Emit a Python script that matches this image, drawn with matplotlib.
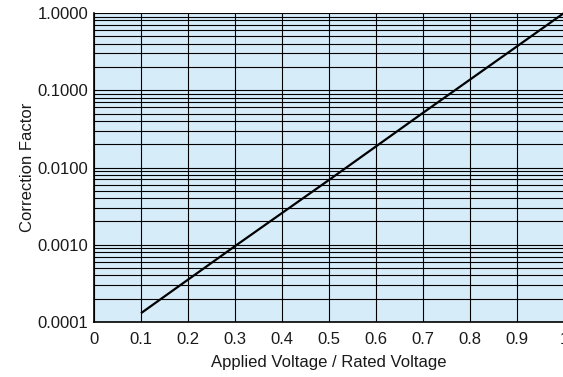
import matplotlib
matplotlib.use("Agg")
import matplotlib.pyplot as plt
import numpy as np
from matplotlib.ticker import LogLocator, NullFormatter

plt.rcParams['font.family'] = ['Liberation Sans', 'DejaVu Sans']

# data
ratio = [0.1, 0.3, 0.5, 0.7, 0.9, 1.0]
factor = [0.00013, 0.00096, 0.0069, 0.051, 0.37, 1.0]

x_ticks = [0, 0.1, 0.2, 0.3, 0.4, 0.5, 0.6, 0.7, 0.8, 0.9, 1]
x_labels = ["0", "0.1", "0.2", "0.3", "0.4", "0.5", "0.6", "0.7", "0.8", "0.9", "1"]
y_ticks = [0.0001, 0.001, 0.01, 0.1, 1]
y_labels = ["0.0001", "0.0010", "0.0100", "0.1000", "1.0000"]

W, H = 563, 377
fig = plt.figure(figsize=(W/100, H/100), dpi=100)
ax = fig.add_axes([94/W, (H-322)/H, 470/W, 309/H])
ax.set_facecolor('#d6edf9')
ax.set_yscale('log')
ax.set_xlim(0, 1)
ax.set_ylim(0.0001, 1)

ax.set_xticks(x_ticks)
ax.set_xticklabels(x_labels)
ax.set_yticks(y_ticks)
ax.set_yticklabels(y_labels)
ax.yaxis.set_minor_locator(LogLocator(base=10, subs=np.arange(2, 10)))
ax.yaxis.set_minor_formatter(NullFormatter())
ax.tick_params(which='both', length=0, labelsize=12, colors='#1a1a1a')
ax.tick_params(axis='x', pad=7)
ax.tick_params(axis='y', pad=4)

ax.grid(True, which='major', axis='both', color='black', linewidth=0.8)
ax.grid(True, which='minor', axis='y', color='black', linewidth=0.8)
ax.set_axisbelow(True)

for s in ['top', 'right']:
    ax.spines[s].set_visible(False)
for s in ['left', 'bottom']:
    ax.spines[s].set_color('black')
    ax.spines[s].set_linewidth(1.2)

ax.plot(ratio, factor, color='black', linewidth=1.6, solid_capstyle='butt', clip_on=False)

ax.set_xlabel('Applied Voltage / Rated Voltage', fontsize=12, labelpad=6, color='#1a1a1a')
ax.set_ylabel('Correction Factor', fontsize=12, labelpad=2, color='#1a1a1a')

fig.savefig('out.png', dpi=100)
